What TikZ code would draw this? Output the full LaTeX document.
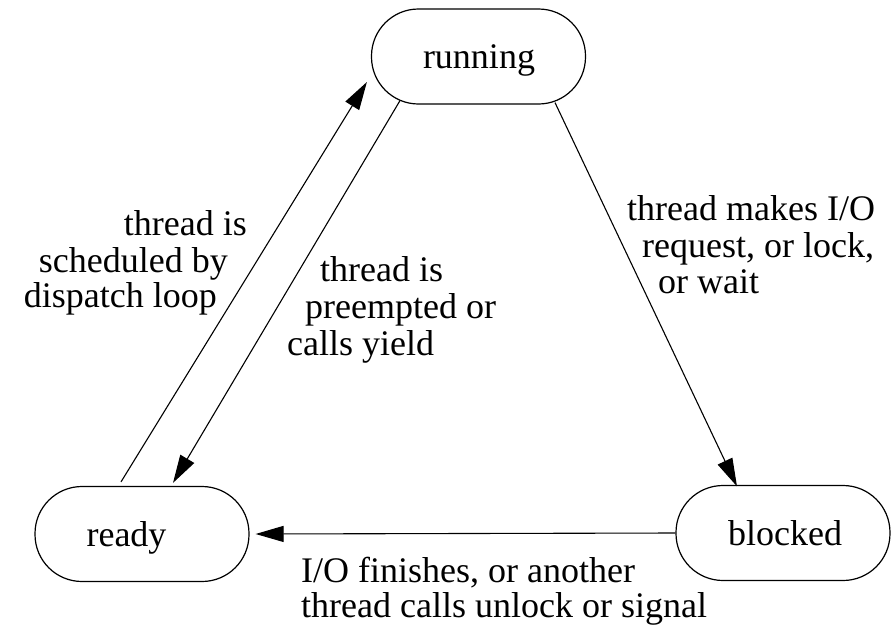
\documentclass[tikz,border=0pt]{standalone}
\usepackage{fontspec}
\setmainfont{Liberation Serif}
\usetikzlibrary{arrows.meta,calc}
\begin{document}
\begin{tikzpicture}[x=1pt,y=-1pt,
  state/.style={draw, line width=1.2pt, rounded corners=47pt,
    minimum width=214pt, minimum height=95pt, inner sep=0pt},
  lbl/.style={font=\fontsize{36}{37}\selectfont, inner sep=0pt},
  trans/.style={line width=1.1pt, -{Triangle[length=28pt,width=16pt]}}]
\useasboundingbox (0,0) rectangle (894,627);

% thread states
\node[state] (running) at (478.5,56.5) {};
\node[state] (ready)   at (142,534) {};
\node[state] (blocked) at (783,533) {};
\node[lbl, anchor=base] (runningtxt) at (479,68) {running};
\node[lbl, anchor=base] (readytxt)   at (126.5,546) {ready};
\node[lbl, anchor=base] (blockedtxt) at (785,545) {blocked};

% transitions
\draw[trans] ($(ready.north)+(-21,-4)$) -- ($(running.west)+(-4,25.5)$);
\draw[trans] ($(running.south)+(-78.5,-4)$) -- ($(ready.north)+(31,-3)$);
\draw[trans] ($(running.south)+(76.5,-2)$) -- ($(blocked.north)+(-46,1.5)$);
\draw[trans] (blocked.west) -- ($(ready.east)+(6,0)$);

% transition labels
\node[lbl, anchor=base east] (a1) at (247,235) {thread is};
\node[lbl, anchor=base east] (a2) at (228,272) {scheduled by};
\node[lbl, anchor=base east] (a3) at (217,307) {dispatch loop};

\node[lbl, anchor=base west] (b1) at (320,281) {thread is};
\node[lbl, anchor=base west] (b2) at (305,318) {preempted or};
\node[lbl, anchor=base west] (b3) at (287,355) {calls yield};

\node[lbl, anchor=base west] (c1) at (627,220) {thread makes I/O};
\node[lbl, anchor=base west] (c2) at (642,257) {request, or lock,};
\node[lbl, anchor=base west] (c3) at (658,293) {or wait};

\node[lbl, anchor=base west] (d1) at (301,582) {I/O finishes, or another};
\node[lbl, anchor=base west] (d2) at (301,617) {thread calls unlock or signal};
\end{tikzpicture}
\end{document}
